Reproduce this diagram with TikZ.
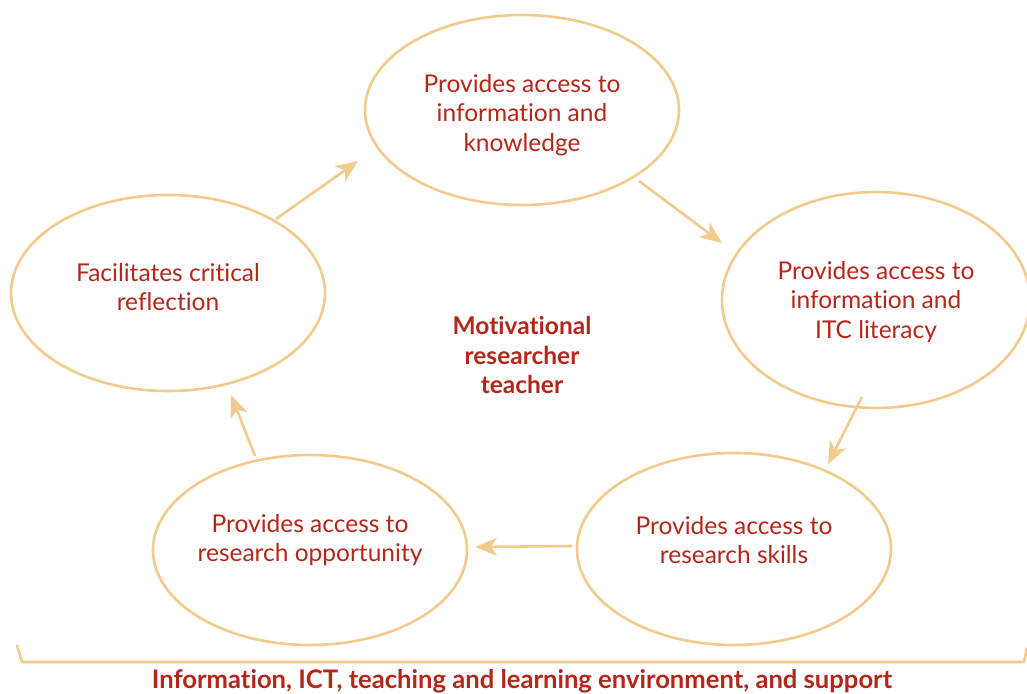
\documentclass[tikz,border=0pt]{standalone}
\usepackage{fontspec}
\setmainfont[RawFeature=-liga]{Lato}
\usetikzlibrary{arrows.meta}
\definecolor{ring}{HTML}{F2CA8C}
\definecolor{txt}{HTML}{B3261A}
\tikzset{
  lbl/.style={text=txt, align=center, font=\fontsize{24.5}{29.5}\selectfont},
  flow/.style={draw=ring, line width=2.6pt, -{Stealth[length=22pt,width=18pt,inset=6pt]}}
}
\begin{document}
\begin{tikzpicture}[x=1pt,y=-1pt]
\useasboundingbox (0,0) rectangle (1027,693);
% ellipses
\draw[ring, line width=2.6pt] (522,110) ellipse [x radius=157, y radius=95];
\draw[ring, line width=2.6pt] (876,300) ellipse [x radius=154, y radius=108];
\draw[ring, line width=2.6pt] (734,549) ellipse [x radius=157, y radius=96];
\draw[ring, line width=2.6pt] (310,550) ellipse [x radius=157, y radius=95];
\draw[ring, line width=2.6pt] (168,293) ellipse [x radius=157, y radius=98];
% labels
\node[lbl] (n1) at (522,115) {Provides access to\\information and\\knowledge};
\node[lbl] (n2) at (876,302) {Provides access to\\information and\\ITC literacy};
\node[lbl] (n3) at (734,540) {Provides access to\\research skills};
\node[lbl] (n4) at (310,540) {Provides access to\\research opportunity};
\node[lbl] (n5) at (168,287) {Facilitates critical\\reflection};
\node[lbl, font=\bfseries\fontsize{24.5}{29.5}\selectfont] (c) at (522,355) {Motivational\\researcher\\teacher};
% arrow ends
\coordinate (a1s) at (276,219); \coordinate (a1e) at (358,161);
\coordinate (a2s) at (639,181); \coordinate (a2e) at (722,243);
\coordinate (a3s) at (862,397); \coordinate (a3e) at (828,464);
\coordinate (a4s) at (572,546); \coordinate (a4e) at (475,547);
\coordinate (a5s) at (255,456); \coordinate (a5e) at (231,395);
\draw[flow] (a1s) -- (a1e);
\draw[flow] (a2s) -- (a2e);
\draw[flow] (a3s) -- (a3e);
\draw[flow] (a4s) -- (a4e);
\draw[flow] (a5s) -- (a5e);
% bracket
\coordinate (b1) at (17,645); \coordinate (b2) at (22,662);
\coordinate (b3) at (1024,662); \coordinate (b4) at (1027,648);
\draw[ring, line width=2.6pt, line join=round] (b1) -- (b2) -- (b3) -- (b4);
\node[lbl, font=\bfseries\fontsize{25.6}{25.6}\selectfont] (base) at (522,681) {Information, ICT, teaching and learning environment, and support};
\end{tikzpicture}
\end{document}
